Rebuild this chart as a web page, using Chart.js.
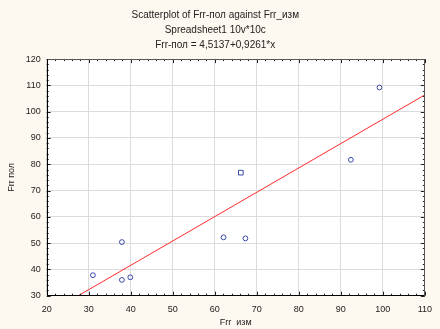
<!DOCTYPE html>
<html>
<head>
<meta charset="utf-8">
<script src="https://cdn.jsdelivr.net/npm/chart.js@4/dist/chart.umd.min.js"></script>
<style>
  html, body { margin: 0; padding: 0; background: #fef9f0; }
  #wrap { width: 440px; height: 329px; }
</style>
</head>
<body>
<div id="wrap"><canvas id="c" width="440" height="329"></canvas></div>
<script>
// ---- data ----
const titleLines = ["Scatterplot of Frr-пол against Frr_изм", "Spreadsheet1 10v*10c", "Frr-пол = 4,5137+0,9261*x"];
const xLabel = "Frr  изм";
const yLabel = "Frr пол";
const xValues = [31.0, 37.9, 37.9, 39.9, 62.1, 66.2, 67.3, 92.4, 99.2];
const yValues = [37.8, 50.4, 36.0, 37.0, 52.2, 76.8, 51.8, 81.7, 109.2];
const markerStyles = ['circle','circle','circle','circle','circle','rect','circle','circle','circle'];
const intercept = 4.5137;
const slope = 0.9261;
const xMin = 20, xMax = 110, xStep = 10;
const yMin = 30, yMax = 120, yStep = 10;

const points = xValues.map((x, i) => ({ x: x, y: yValues[i] }));
const xStart = (yMin - intercept) / slope;
const fitLine = [xStart, xMax].map(x => ({ x: x, y: intercept + slope * x }));

const FONT = "'Liberation Sans', Arial, sans-serif";

const framePlugin = {
  id: 'framePlugin',
  beforeDraw(chart) {
    const { ctx, chartArea: a } = chart;
    ctx.save();
    ctx.fillStyle = '#fef9f0';
    ctx.fillRect(0, 0, chart.width, chart.height);
    ctx.fillStyle = '#ffffff';
    ctx.fillRect(a.left, a.top, a.right - a.left, a.bottom - a.top);
    ctx.restore();
  },
  afterDatasetsDraw(chart) {
    const { ctx, chartArea: a, scales } = chart;
    const xs = scales.x, ys = scales.y;
    ctx.save();
    ctx.lineWidth = 1;
    ctx.strokeStyle = '#222';
    ctx.beginPath();
    for (let v = xMin; v <= xMax + 1e-9; v += 2) {
      const p = Math.round(xs.getPixelForValue(v)) + 0.5;
      const len = (v % 10 === 0) ? 4 : 2;
      ctx.moveTo(p, a.bottom); ctx.lineTo(p, a.bottom - len);
      ctx.moveTo(p, a.top); ctx.lineTo(p, a.top + len);
    }
    for (let v = yMin; v <= yMax + 1e-9; v += 2) {
      const p = Math.round(ys.getPixelForValue(v)) + 0.5;
      const len = (v % 10 === 0) ? 4 : 2;
      ctx.moveTo(a.left, p); ctx.lineTo(a.left + len, p);
      ctx.moveTo(a.right, p); ctx.lineTo(a.right - len, p);
    }
    ctx.stroke();
    // frame
    const L = Math.round(a.left) + 0.5, R = Math.round(a.right) - 0.5;
    const T = Math.round(a.top) + 0.5, B = Math.round(a.bottom) - 0.5;
    ctx.strokeStyle = '#555';
    ctx.beginPath();
    ctx.moveTo(L, T); ctx.lineTo(R, T); ctx.lineTo(R, B);
    ctx.stroke();
    ctx.strokeStyle = '#000';
    ctx.beginPath();
    ctx.moveTo(L, T); ctx.lineTo(L, B); ctx.lineTo(R, B);
    ctx.stroke();
    ctx.restore();
  }
};

new Chart(document.getElementById('c'), {
  type: 'scatter',
  data: {
    datasets: [
      {
        type: 'line',
        label: 'fit',
        data: fitLine,
        borderColor: '#ff2a2a',
        borderWidth: 1,
        pointRadius: 0,
        fill: false,
        order: 2
      },
      {
        label: 'points',
        data: points,
        pointStyle: markerStyles,
        pointRadius: markerStyles.map(s => s === 'rect' ? 3.3 : 2.4),
        pointBorderColor: '#3848a8',
        pointBackgroundColor: 'rgba(255,255,255,0)',
        pointBorderWidth: 1,
        order: 1
      }
    ]
  },
  options: {
    responsive: false,
    animation: false,
    events: [],
    layout: { padding: { left: 0, right: 9.5, top: 0, bottom: 0 } },
    plugins: {
      legend: { display: false },
      tooltip: { enabled: false },
      title: {
        display: true,
        text: titleLines,
        color: '#222',
        font: { family: FONT, size: 10, weight: 'normal', lineHeight: 1.47 },
        padding: { top: 8, bottom: 7 }
      }
    },
    scales: {
      x: {
        type: 'linear',
        min: xMin, max: xMax,
        afterFit: s => { s.height = 33.3; },
        ticks: { stepSize: xStep, color: '#222', font: { family: FONT, size: 9 }, padding: 8, maxRotation: 0 },
        grid: { color: '#dcdcdc', lineWidth: 1, drawTicks: false },
        border: { display: false },
        title: { display: true, text: xLabel, color: '#222', font: { family: FONT, size: 9 }, padding: { top: 0, bottom: 1 } }
      },
      y: {
        type: 'linear',
        min: yMin, max: yMax,
        afterFit: s => { s.width = 46.7; },
        ticks: { stepSize: yStep, color: '#222', font: { family: FONT, size: 9 }, padding: 6 },
        grid: { color: '#dcdcdc', lineWidth: 1, drawTicks: false },
        border: { display: false },
        title: { display: true, text: yLabel, color: '#222', font: { family: FONT, size: 9 }, padding: { top: 6, bottom: 0 } }
      }
    }
  },
  plugins: [framePlugin]
});
</script>
</body>
</html>
